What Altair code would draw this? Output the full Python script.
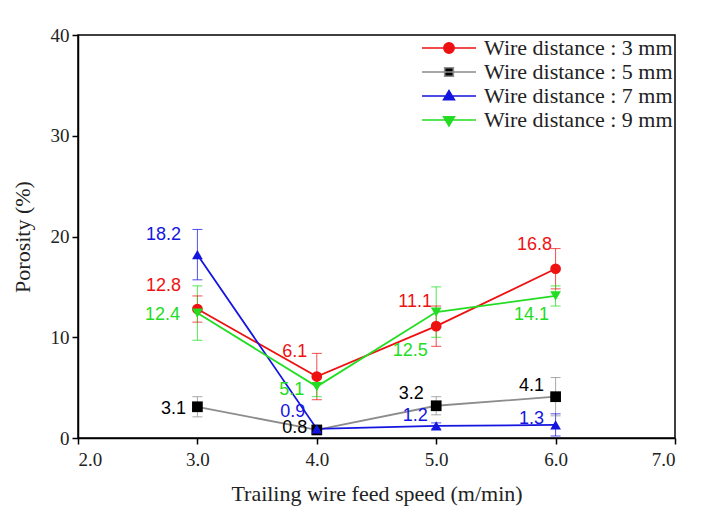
import altair as alt
import pandas as pd

# ---------------- data ----------------
speeds = [3.0, 4.0, 5.0, 6.0]
series_names = ["Wire distance : 3 mm", "Wire distance : 5 mm",
                "Wire distance : 7 mm", "Wire distance : 9 mm"]

por_3mm = [12.8, 6.1, 11.1, 16.8]
err_3mm = [1.3, 2.3, 2.0, 2.0]
por_5mm = [3.1, 0.8, 3.2, 4.1]
err_5mm = [1.0, 0.3, 0.9, 1.9]
por_7mm = [18.2, 0.9, 1.2, 1.3]
err_7mm = [2.5, 0.3, 0.3, 1.1]
por_9mm = [12.4, 5.1, 12.5, 14.1]
err_9mm = [2.7, 1.0, 2.5, 1.0]

labels_3mm = ["12.8", "6.1", "11.1", "16.8"]
labels_5mm = ["3.1", "0.8", "3.2", "4.1"]
labels_7mm = ["18.2", "0.9", "1.2", "1.3"]
labels_9mm = ["12.4", "5.1", "12.5", "14.1"]

# label placement (pixel offsets from the point)
lab_dx_3mm = [-34, -22, -21, -21]
lab_dy_3mm = [-23, -25, -24, -24]
lab_dx_5mm = [-24, -22, -25, -24]
lab_dy_5mm = [2, -2, -12, -11]
lab_dx_7mm = [-34, -24, -21, -24]
lab_dy_7mm = [-20, -17, -10, -6]
lab_dx_9mm = [-35, -25, -26, -24]
lab_dy_9mm = [2, 3, 39, 19]

# ---------------- styles ----------------
W, H = 597, 403
X_DOM = [2, 7]
Y_DOM = [0, 40]
marker_colors = ["#ee1111", "#000000", "#1515e0", "#22dd22"]
line_colors = ["#ee1111", "#8c8c8c", "#1515e0", "#22dd22"]
shapes = ["circle", "square", "triangle-up", "triangle-down"]
legend_paths = [
    "M-1,0H1M0.19,0A0.19,0.19,0,1,1,-0.19,0A0.19,0.19,0,1,1,0.19,0Z",
    "M-1,0H1M-0.16,-0.16H0.16V0.16H-0.16Z",
    "M-1,0H1M0,-0.2L0.2,0.14H-0.2Z",
    "M-1,0H1M0,0.22L0.2,-0.12H-0.2Z",
]

rows = []
for name, por, err, lab, dxs, dys in [
    (series_names[0], por_3mm, err_3mm, labels_3mm, lab_dx_3mm, lab_dy_3mm),
    (series_names[1], por_5mm, err_5mm, labels_5mm, lab_dx_5mm, lab_dy_5mm),
    (series_names[2], por_7mm, err_7mm, labels_7mm, lab_dx_7mm, lab_dy_7mm),
    (series_names[3], por_9mm, err_9mm, labels_9mm, lab_dx_9mm, lab_dy_9mm),
]:
    for s, p, e, l, dx, dy in zip(speeds, por, err, lab, dxs, dys):
        rows.append({
            "series": name, "speed": s, "porosity": p,
            "lo": p - e, "hi": p + e, "label": l,
            "lx": s + dx * (X_DOM[1] - X_DOM[0]) / W,
            "ly": p - dy * (Y_DOM[1] - Y_DOM[0]) / H,
        })
df = pd.DataFrame(rows)

SERIF = "Liberation Serif"
SANS = "Liberation Sans"
TXT = "#222222"


def xenc(field):
    return alt.X(f"{field}:Q", scale=alt.Scale(domain=X_DOM, nice=False),
                 axis=alt.Axis(values=[2, 3, 4, 5, 6, 7], format=".1f",
                               title="Trailing wire feed speed (m/min)",
                               labelFont=SERIF, labelFontSize=19, labelColor=TXT,
                               titleFont=SERIF, titleFontSize=22, titleFontWeight="normal",
                               titleColor=TXT, labelPadding=6, titlePadding=14))


def yenc(field):
    return alt.Y(f"{field}:Q", scale=alt.Scale(domain=Y_DOM, nice=False),
                 axis=alt.Axis(values=[0, 10, 20, 30, 40], format="d",
                               title="Porosity (%)",
                               labelFont=SERIF, labelFontSize=19, labelColor=TXT,
                               titleFont=SERIF, titleFontSize=22, titleFontWeight="normal",
                               titleColor=TXT, labelPadding=3, titlePadding=16))


stroke_sc = alt.Scale(domain=series_names, range=line_colors)
fill_sc = alt.Scale(domain=series_names, range=marker_colors)

base = alt.Chart(df)

err_rule = base.mark_rule(strokeWidth=1, opacity=0.75).encode(
    x=xenc("speed"), y=yenc("lo"), y2="hi",
    stroke=alt.Stroke("series:N", scale=stroke_sc, legend=None),
)
cap_lo = base.mark_tick(orient="horizontal", size=10, thickness=1, opacity=0.75).encode(
    x=xenc("speed"), y=yenc("lo"),
    color=alt.Color("series:N", scale=stroke_sc, legend=None),
)
cap_hi = base.mark_tick(orient="horizontal", size=10, thickness=1, opacity=0.75).encode(
    x=xenc("speed"), y=yenc("hi"),
    color=alt.Color("series:N", scale=stroke_sc, legend=None),
)

lines = base.mark_line(strokeWidth=1.8).encode(
    x=xenc("speed"), y=yenc("porosity"),
    stroke=alt.Stroke("series:N", scale=stroke_sc, legend=None),
    detail="series:N",
)

points = base.mark_point(filled=True, opacity=1, size=115, strokeWidth=0).encode(
    x=xenc("speed"), y=yenc("porosity"),
    fill=alt.Fill("series:N", scale=fill_sc, legend=None),
    shape=alt.Shape("series:N", scale=alt.Scale(domain=series_names, range=shapes), legend=None),
)

texts = base.mark_text(font=SANS, fontSize=18, align="center", baseline="middle").encode(
    x=xenc("lx"), y=yenc("ly"), text="label:N",
    fill=alt.Fill("series:N", scale=fill_sc, legend=None),
)

leg = alt.Legend(title=None, orient="top-right", offset=2, padding=0,
                 symbolSize=2916, symbolStrokeWidth=1.6, symbolOpacity=1,
                 labelFont=SERIF, labelFontSize=22, labelColor=TXT,
                 labelLimit=400, labelOffset=7, clipHeight=22, rowPadding=2)

legend_layer = base.transform_filter("datum.speed < 0").mark_point(
    filled=True, opacity=1, strokeWidth=1.6).encode(
    x=xenc("speed"), y=yenc("porosity"),
    fill=alt.Fill("series:N", scale=alt.Scale(domain=series_names, range=marker_colors), legend=leg),
    stroke=alt.Stroke("series:N", scale=alt.Scale(domain=series_names, range=line_colors), legend=leg),
    shape=alt.Shape("series:N", scale=alt.Scale(domain=series_names, range=legend_paths), legend=leg),
)

chart = alt.layer(
    err_rule, cap_lo, cap_hi, lines, points, texts, legend_layer
).resolve_scale(
    shape="independent", fill="independent", stroke="independent", color="independent"
).properties(
    width=W, height=H,
    autosize=alt.AutoSizeParams(type="none"),
    padding={"left": 70, "top": 27, "right": 20, "bottom": 70},
).configure(
    font=SERIF
).configure_view(
    stroke="#000000", strokeWidth=1.5
).configure_axis(
    grid=False, domainColor="#000000", domainWidth=1.5,
    tickColor="#000000", tickWidth=1.5, tickSize=6,
)

chart.save("out.html", embed_options={"renderer": "svg", "actions": False})
